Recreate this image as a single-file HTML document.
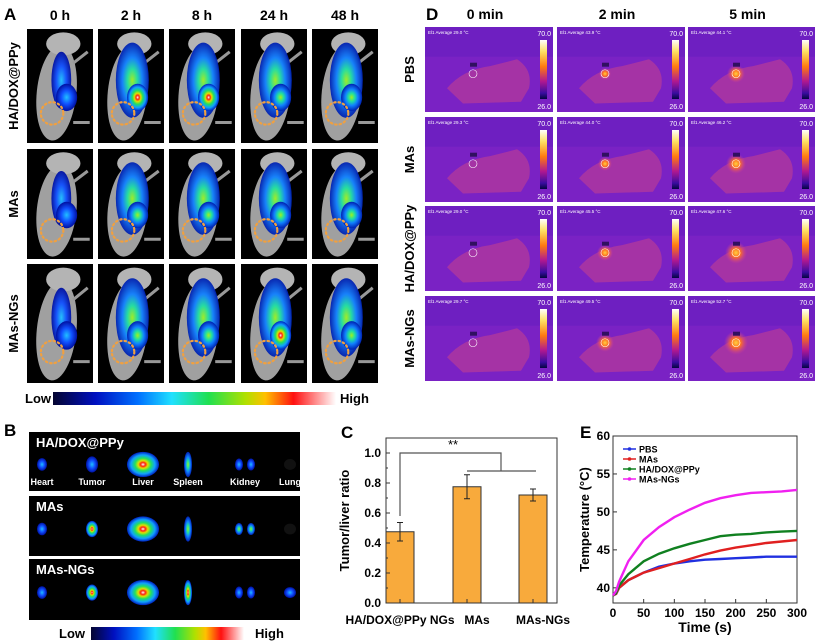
<!DOCTYPE html>
<html><head><meta charset="utf-8">
<style>
html,body{margin:0;padding:0;background:#fff;}
svg{display:block;font-family:"Liberation Sans",Arial,sans-serif;}
</style></head>
<body>
<svg id="fig" width="824" height="644" viewBox="0 0 824 644" xmlns="http://www.w3.org/2000/svg">
<defs>
<linearGradient id="jet" x1="0" x2="1" y1="0" y2="0">
<stop offset="0" stop-color="#050530"/><stop offset="0.15" stop-color="#0010c0"/><stop offset="0.3" stop-color="#0070ff"/><stop offset="0.42" stop-color="#20e0ff"/><stop offset="0.55" stop-color="#20e050"/><stop offset="0.68" stop-color="#b0e000"/><stop offset="0.75" stop-color="#ffc000"/><stop offset="0.85" stop-color="#ff1010"/><stop offset="1" stop-color="#ffffff"/>
</linearGradient>
<linearGradient id="iron" x1="0" x2="0" y1="0" y2="1">
<stop offset="0" stop-color="#ffffff"/><stop offset="0.2" stop-color="#ffe060"/><stop offset="0.45" stop-color="#ff7a10"/><stop offset="0.7" stop-color="#b01890"/><stop offset="0.9" stop-color="#3a0ca0"/><stop offset="1" stop-color="#050540"/>
</linearGradient>
<radialGradient id="fluoHot"><stop offset="0" stop-color="#fff"/><stop offset="0.15" stop-color="#ff2010"/><stop offset="0.3" stop-color="#e0e000"/><stop offset="0.5" stop-color="#20e060"/><stop offset="0.75" stop-color="#10a0ff"/><stop offset="1" stop-color="#0020c0"/></radialGradient>
<radialGradient id="fluoMid"><stop offset="0" stop-color="#a0f020"/><stop offset="0.3" stop-color="#20e0a0"/><stop offset="0.6" stop-color="#1080ff"/><stop offset="1" stop-color="#0020b0"/></radialGradient>
<radialGradient id="fluoLow"><stop offset="0" stop-color="#20c0ff"/><stop offset="0.5" stop-color="#1050ff"/><stop offset="1" stop-color="#0010a0"/></radialGradient>
<radialGradient id="heat"><stop offset="0" stop-color="#ffd040"/><stop offset="0.4" stop-color="#ff7020"/><stop offset="1" stop-color="#d0409a" stop-opacity="0"/></radialGradient>
</defs>
<g id="panelA"></g>
<g id="panelB"></g>
<g id="panelC"></g>
<g id="panelD"></g>
<g id="panelE"></g>
</svg>
<script>
const NS="http://www.w3.org/2000/svg";
function mk(tag,attrs,parent,text){const e=document.createElementNS(NS,tag);for(const k in attrs)e.setAttribute(k,attrs[k]);if(text!==undefined)e.textContent=text;parent.appendChild(e);return e;}

// ---------- Panel C data ----------
const cCategories=["HA/DOX@PPy NGs","MAs","MAs-NGs"];
const cValues=[0.475,0.775,0.72];
const cErrors=[0.062,0.08,0.04];
const cTicks=[0.0,0.2,0.4,0.6,0.8,1.0];

// ---------- Panel E data ----------
const eTimes=[0,5,10,25,50,75,100,125,150,175,200,225,250,275,300];
const ePBS=[39,39.2,40,41,42,42.8,43.2,43.5,43.7,43.8,43.9,44,44.1,44.1,44.1];
const eMAs=[39,39.2,40,41,42,42.6,43.2,43.8,44.4,44.9,45.3,45.6,45.9,46.1,46.3];
const eHA=[39,39.3,40.3,41.8,43.5,44.5,45.2,45.8,46.3,46.8,47,47.1,47.3,47.4,47.5];
const eNG=[39,39.6,40.8,43.5,46.3,48,49.3,50.3,51.2,51.8,52.2,52.5,52.6,52.7,52.9];
const eYTicks=[40,45,50,55,60];
const eXTicks=[0,50,100,150,200,250,300];
const eSeriesNames=["PBS","MAs","HA/DOX@PPy","MAs-NGs"];

// ===== Panel A =====
(function(){
const g=document.getElementById('panelA');
let t=mk('text',{x:4,y:20,'font-size':17,'font-weight':'bold'},g,'A');

const heads=["0 h","2 h","8 h","24 h","48 h"];
const cols=[27,98,169,241,312];const w=66;
const rows=[[29,143],[149,259],[264,383]];
const rowNames=["HA/DOX@PPy","MAs","MAs-NGs"];
const hot=[[0,2,2,1,1],[0,1,1,1,1],[0,1,1,2,1]];
heads.forEach((h,i)=>{const e=mk('text',{x:cols[i]+w/2,y:20,'font-size':14,'font-weight':'bold','text-anchor':'middle'},g,h);
});
rows.forEach((r,ri)=>{
 const rl=mk('text',{x:0,y:0,'font-size':13,'font-weight':'bold','text-anchor':'middle',transform:`translate(18,${(r[0]+r[1])/2}) rotate(-90)`},g,rowNames[ri]);
 
 cols.forEach((cx,ci)=>{
  const tile=mk('g',{},g);
  
  const hgt=r[1]-r[0];
  mk('rect',{x:cx,y:r[0],width:w,height:hgt,fill:'#000'},tile);
  mk('ellipse',{cx:cx+w*0.45,cy:r[0]+hgt*0.56,rx:w*0.3,ry:hgt*0.42,fill:'#a0a0a0',transform:`rotate(6 ${cx+w*0.45} ${r[0]+hgt*0.55})`},tile);
  mk('ellipse',{cx:cx+w*0.55,cy:r[0]+hgt*0.13,rx:w*0.26,ry:hgt*0.1,fill:'#b4b4b4'},tile);
  mk('path',{d:`M${cx+w*0.7},${r[0]+hgt*0.3} l${w*0.22},-${hgt*0.1} M${cx+w*0.7},${r[0]+hgt*0.82} l${w*0.25},0`,stroke:'#999','stroke-width':3,fill:'none'},tile);
  const lvl=hot[ri][ci];
  const grad=lvl===2?'url(#fluoHot)':(lvl===1?'url(#fluoMid)':'url(#fluoLow)');
  mk('ellipse',{cx:cx+w*0.52,cy:r[0]+hgt*0.45,rx:w*(lvl?0.25:0.15),ry:hgt*(lvl?0.33:0.25),fill:lvl?'url(#fluoMid)':'url(#fluoLow)',opacity:0.95},tile);
  mk('ellipse',{cx:cx+w*0.6,cy:r[0]+hgt*0.6,rx:w*0.16,ry:hgt*0.12,fill:grad},tile);
  mk('circle',{cx:cx+w*0.38,cy:r[0]+hgt*0.74,r:w*0.17,fill:'none',stroke:'#f0a040','stroke-width':2.2,'stroke-dasharray':'1.5 3','stroke-linecap':'round'},tile);
 });
});
let e=mk('text',{x:25,y:403,'font-size':13,'font-weight':'bold'},g,'Low');
e=mk('rect',{x:53,y:392,width:283,height:13,fill:'url(#jet)'},g);
e=mk('text',{x:340,y:403,'font-size':13,'font-weight':'bold'},g,'High');
})();

// ===== Panel B =====
(function(){
const g=document.getElementById('panelB');
let e=mk('text',{x:4,y:436,'font-size':17,'font-weight':'bold'},g,'B');
const rows=[[432,491,"HA/DOX@PPy"],[496,556,"MAs"],[559,620,"MAs-NGs"]];
const organX=[42,92,143,188,245,290];
const organs=["Heart","Tumor","Liver","Spleen","Kidney","Lung"];
const organFill=[["url(#fluoLow)","url(#fluoLow)","url(#fluoHot)","url(#fluoMid)","url(#fluoLow)","#111"],["url(#fluoLow)","url(#fluoHot)","url(#fluoHot)","url(#fluoMid)","url(#fluoMid)","#111"],["url(#fluoLow)","url(#fluoHot)","url(#fluoHot)","url(#fluoHot)","url(#fluoLow)","url(#fluoLow)"]];
const sizes=[[5,7],[6,9],[16,14],[4,14],[10,8],[6,6]];
rows.forEach((r,ri)=>{
 const p=mk('g',{},g);
 mk('rect',{x:29,y:r[0],width:271,height:r[1]-r[0],fill:'#000'},p);
 mk('text',{x:36,y:r[0]+15,'font-size':13,'font-weight':'bold',fill:'#fff'},p,r[2]);
 const cy=r[0]+(r[1]-r[0])*0.55;
 organX.forEach((ox,oi)=>{
  const s=sizes[oi];
  if(oi===4){mk('ellipse',{cx:ox-6,cy:cy,rx:4,ry:6,fill:organFill[ri][oi]},p);mk('ellipse',{cx:ox+6,cy:cy,rx:4,ry:6,fill:organFill[ri][oi]},p);}
  else mk('ellipse',{cx:ox,cy:cy,rx:s[0],ry:s[1]*0.9,fill:organFill[ri][oi]},p);
  if(ri===0){mk('text',{x:ox,y:r[1]-6,'font-size':9,'font-weight':'bold',fill:'#fff','text-anchor':'middle'},p,organs[oi]);}
 });
});
e=mk('text',{x:59,y:638,'font-size':13,'font-weight':'bold'},g,'Low');
e=mk('rect',{x:91,y:627,width:153,height:13,fill:'url(#jet)'},g);
e=mk('text',{x:255,y:638,'font-size':13,'font-weight':'bold'},g,'High');
})();

// ===== Panel C =====
(function(){
const g=document.getElementById('panelC');
const L=386,R=557,T=438,B=603;
const y=v=>B-v/1.1*(B-T);
const xc=[400,467,533];
let e=mk('text',{x:341,y:438,'font-size':17,'font-weight':'bold'},g,'C');
cValues.forEach((v,i)=>{
 const b=mk('rect',{x:xc[i]-14,y:y(v),width:28,height:B-y(v),fill:'#f8aa3c',stroke:'#333','stroke-width':1},g);
 
 const er=mk('path',{d:`M${xc[i]},${y(v-cErrors[i])}V${y(v+cErrors[i])}M${xc[i]-3},${y(v-cErrors[i])}h6M${xc[i]-3},${y(v+cErrors[i])}h6`,stroke:'#222','stroke-width':1,fill:'none'},g);
 
});
e=mk('rect',{x:L,y:T,width:R-L,height:B-T,fill:'none',stroke:'#333','stroke-width':1},g);
cTicks.forEach(t=>{mk('line',{x1:L,x2:L+4,y1:y(t),y2:y(t),stroke:'#333'},g);
 const tl=mk('text',{x:L-5,y:y(t)+4,'font-size':12,'font-weight':'bold','text-anchor':'end'},g,t.toFixed(1));
 });
[0.1,0.3,0.5,0.7,0.9].forEach(t=>mk('line',{x1:L,x2:L+2,y1:y(t),y2:y(t),stroke:'#333'},g));
xc.forEach(x=>mk('line',{x1:x,x2:x,y1:B,y2:B-4,stroke:'#333'},g));
const lx=[400,477,543];
cCategories.forEach((c,i)=>{const tl=mk('text',{x:lx[i],y:624,'font-size':12,'font-weight':'bold','text-anchor':'middle'},g,c);
 });
e=mk('text',{x:0,y:0,'font-size':13,'font-weight':'bold','text-anchor':'middle',transform:`translate(349,${(T+B)/2}) rotate(-90)`},g,'Tumor/liver ratio');

e=mk('path',{d:`M${xc[0]},${y(0.58)}V${y(1.0)}H501V${y(0.88)}M${xc[1]},${y(0.88)}H536`,stroke:'#555','stroke-width':1.2,fill:'none'},g);

e=mk('text',{x:453,y:449,'font-size':13,'text-anchor':'middle'},g,'**');
})();

// ===== Panel D =====
(function(){
const g=document.getElementById('panelD');
let e=mk('text',{x:426,y:20,'font-size':17,'font-weight':'bold'},g,'D');
const cols=[[425,553],[557,685],[688,815]];
const rows=[[27,112],[117,202],[206,291],[296,381]];
const heads=["0 min","2 min","5 min"];
const rowNames=["PBS","MAs","HA/DOX@PPy","MAs-NGs"];
const avgs=[["29.0","43.9","44.1"],["29.3","44.0","46.2"],["29.0","45.5","47.6"],["29.7","49.5","52.7"]];
heads.forEach((h,i)=>{const t=mk('text',{x:(cols[i][0]+cols[i][1])/2-4,y:19,'font-size':14,'font-weight':'bold','text-anchor':'middle'},g,h);
 });
rows.forEach((r,ri)=>{
 const rl=mk('text',{x:0,y:0,'font-size':13,'font-weight':'bold','text-anchor':'middle',transform:`translate(414,${(r[0]+r[1])/2}) rotate(-90)`},g,rowNames[ri]);
 
 cols.forEach((c,ci)=>{
  const tile=mk('g',{},g);
  const w=c[1]-c[0],h=r[1]-r[0];
  mk('rect',{x:c[0],y:r[0],width:w,height:h,fill:'#7a22c4'},tile);
  mk('rect',{x:c[0],y:r[0],width:w,height:h*0.35,fill:'#6a1ec0',opacity:0.7},tile);
  mk('path',{d:`M${c[0]+22},${r[0]+h*0.72} Q${c[0]+38},${r[0]+h*0.5} ${c[0]+65},${r[0]+h*0.46} L${c[0]+92},${r[0]+h*0.38} Q${c[0]+108},${r[0]+h*0.5} ${c[0]+104},${r[0]+h*0.72} L${c[0]+96},${r[0]+h*0.88} L${c[0]+38},${r[0]+h*0.9} Z`,fill:'#b0389e',opacity:0.8},tile);
  if(ci>0) mk('circle',{cx:c[0]+48,cy:r[0]+h*0.55,r:ci*3+3+ri,fill:'url(#heat)'},tile);
  mk('circle',{cx:c[0]+48,cy:r[0]+h*0.55,r:4,fill:'none',stroke:'#fff','stroke-width':0.6},tile);
  mk('rect',{x:c[0]+45,y:r[0]+h*0.42,width:7,height:4,fill:'#301060'},tile);
  mk('rect',{x:c[1]-13,y:r[0]+13,width:7,height:h-26,fill:'url(#iron)'},tile);
  mk('text',{x:c[1]-2,y:r[0]+9,'font-size':7,fill:'#fff','text-anchor':'end'},tile,'70.0');
  mk('text',{x:c[1]-2,y:r[1]-3,'font-size':7,fill:'#fff','text-anchor':'end'},tile,'26.0');
  mk('text',{x:c[0]+3,y:r[0]+7,'font-size':4.5,fill:'#fff'},tile,'El1  Average  '+avgs[ri][ci]+'  °C');
 });
});
})();

// ===== Panel E =====
(function(){
const g=document.getElementById('panelE');
const L=613,R=797,T=436,B=603;
const x=v=>L+v/300*(R-L);
const y=v=>B-(v-38)/22*(B-T);
let e=mk('text',{x:580,y:438,'font-size':17,'font-weight':'bold'},g,'E');
e=mk('rect',{x:L,y:T,width:R-L,height:B-T,fill:'none',stroke:'#333'},g);
eYTicks.forEach(t=>{mk('line',{x1:L,x2:L+4,y1:y(t),y2:y(t),stroke:'#333'},g);
 const tl=mk('text',{x:L-3,y:y(t)+4,'font-size':12,'font-weight':'bold','text-anchor':'end'},g,t);
 });
eXTicks.forEach(t=>{mk('line',{x1:x(t),x2:x(t),y1:B,y2:B-4,stroke:'#333'},g);
 const tl=mk('text',{x:x(t),y:B+14,'font-size':12,'font-weight':'bold','text-anchor':'middle'},g,t);
 });
e=mk('text',{x:(L+R)/2,y:632,'font-size':14,'font-weight':'bold','text-anchor':'middle'},g,'Time (s)');
e=mk('text',{x:0,y:0,'font-size':13,'font-weight':'bold','text-anchor':'middle',transform:`translate(589,${(T+B)/2}) rotate(-90)`},g,'Temperature (°C)');
const series=[ePBS,eMAs,eHA,eNG];const colors=['#2030e0','#e02020','#108020','#f020f0'];
series.forEach((s,si)=>{
 const d=s.map((v,i)=>(i?'L':'M')+x(eTimes[i]).toFixed(1)+','+y(v).toFixed(1)).join('');
 const p=mk('path',{d:d,stroke:colors[si],'stroke-width':2.4,fill:'none'},g);
 
 const ly=449+si*10;
 const le=mk('g',{},g);
 mk('line',{x1:623,x2:636,y1:ly,y2:ly,stroke:colors[si],'stroke-width':1.5},le);
 mk('circle',{cx:629.5,cy:ly,r:1.8,fill:colors[si]},le);
 mk('text',{x:639,y:ly+3.5,'font-size':9,'font-weight':'bold'},le,eSeriesNames[si]);
});
})();
</script>
</body></html>
